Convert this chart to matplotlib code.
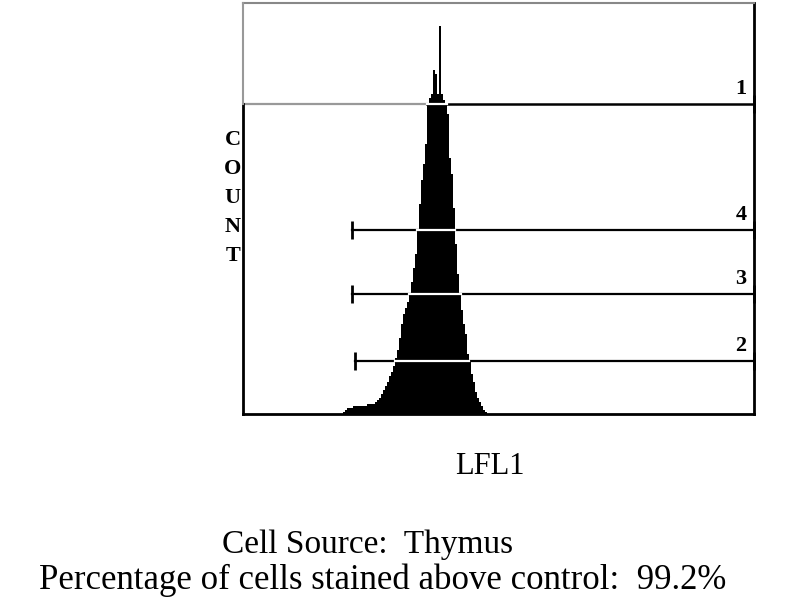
import numpy as np
import matplotlib
matplotlib.use('Agg')
import matplotlib.pyplot as plt

# histogram: channel -> count
channels = np.arange(50, 122)
counts = [1, 2, 3, 3, 3, 4, 4, 4, 4, 4,
          4, 4, 5, 5, 5, 5, 6, 7, 8, 10,
          12, 14, 16, 19, 21, 24, 28, 32, 38, 45,
          50, 53, 56, 60, 66, 73, 80, 92, 105, 117,
          125, 135, 155, 158, 160, 172, 170, 160, 194, 160,
          157, 155, 150, 128, 120, 103, 85, 70, 60, 52,
          45, 40, 30, 26, 20, 16, 11, 8, 6, 4,
          2, 1]

# gates: name, level, start channel
gate_names = ['1', '4', '3', '2']
gate_levels = [155, 92, 60, 26.5]
gate_starts = [0, 54.5, 54.5, 56]

x_max = 255.5
y_max = 205.5

fig = plt.figure(figsize=(8, 6), dpi=100)
ax = fig.add_axes([0.30375, 0.31, 0.63875, 0.685])

ax.bar(channels, counts, width=1.0, align='edge', color='black', linewidth=0, zorder=3)

counts_arr = np.array(counts)
for name, lvl, st in zip(gate_names, gate_levels, gate_starts):
    if name == '1':
        # left part of gate 1 is light gray, right of the peak black
        ax.plot([st, 92], [lvl, lvl], color='#999999', lw=1.6, zorder=2)
        ax.plot([92, x_max], [lvl, lvl], color='black', lw=1.8, zorder=2)
    else:
        ax.plot([st, x_max], [lvl, lvl], color='black', lw=1.6, zorder=2)
        ax.plot([st], [lvl], marker='|', ms=13, mew=2, color='black', zorder=2)
    ax.plot([x_max], [lvl], marker='|', ms=13, mew=2, color='black', zorder=2, clip_on=False)
    # gate line shows white where it crosses the histogram
    inside = channels[counts_arr >= lvl]
    ax.plot([inside.min(), inside.max() + 1], [lvl, lvl], color='white', lw=1.6, zorder=4)
    ax.text(249, lvl + 2.5, name, ha='center', va='bottom', fontsize=16,
            fontweight='bold', family='Liberation Serif', zorder=5)

ax.set_xlim(0, x_max)
ax.set_ylim(0, y_max)
ax.set_xticks([])
ax.set_yticks([])

for s in ['bottom', 'right']:
    ax.spines[s].set_linewidth(2)
    ax.spines[s].set_color('black')
ax.spines['top'].set_linewidth(1.5)
ax.spines['top'].set_color('#888888')
ax.spines['left'].set_visible(False)
ax.plot([0, 0], [0, gate_levels[0]], color='black', lw=2, clip_on=False, zorder=5)
ax.plot([0, 0], [gate_levels[0], y_max], color='#999999', lw=1.5, clip_on=False, zorder=5)

# vertical stacked y label
for i, ch in enumerate('COUNT'):
    fig.text(0.291, 1 - (140 + i * 29) / 600, ch, ha='center', va='center',
             fontsize=16, fontweight='bold', family='Liberation Serif')

fig.text(490 / 800, 1 - 467 / 600, 'LFL1', ha='center', va='center',
         fontsize=22, family='Liberation Serif')
fig.text(368 / 800, 1 - 545 / 600, 'Cell Source:  Thymus', ha='center', va='center',
         fontsize=24, family='Liberation Serif')
fig.text(383 / 800, 1 - 580 / 600, 'Percentage of cells stained above control:  99.2%',
         ha='center', va='center', fontsize=25, family='Liberation Serif')

plt.savefig('out.png', dpi=100)
